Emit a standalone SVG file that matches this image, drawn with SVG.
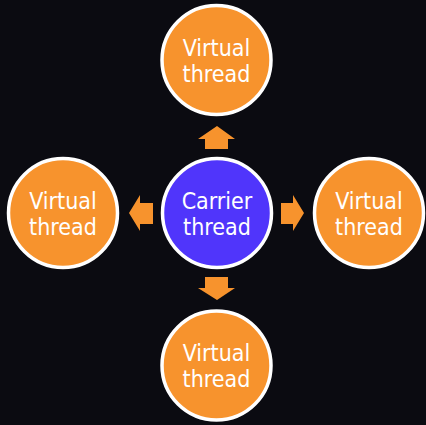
<svg xmlns="http://www.w3.org/2000/svg" width="426" height="425" viewBox="0 0 426 425">
<style>
.v{fill:#f7932d;stroke:#ffffff;stroke-width:3.5}
.c{fill:#5035fb;stroke:#ffffff;stroke-width:3.5}
.t{font-family:"DejaVu Sans Condensed","DejaVu Sans",sans-serif;font-stretch:condensed;font-size:23px;fill:#ffffff;text-anchor:middle}
.a{fill:#f7932d}
</style>
<rect width="426" height="425" fill="#0b0b11"/>
<g id="connectors">
<polygon class="a" points="217,126 235,139 228,139 228,149 205,149 205,139 198,139"/>
<polygon class="a" points="217,300 235,288 228,288 228,277 205,277 205,288 198,288"/>
<polygon class="a" points="129,213 140,195 140,203 153,203 153,224 140,224 140,231"/>
<polygon class="a" points="304,213 293,195 293,203 281,203 281,224 293,224 293,231"/>
</g>
<g id="carrier">
<circle class="c" cx="217" cy="213" r="54.5"/>
<text class="t" x="217" y="208.5">Carrier</text>
<text class="t" x="217" y="234.5">thread</text>
</g>
<g id="vt-top">
<circle class="v" cx="216.5" cy="60" r="54.5"/>
<text class="t" x="216.5" y="55.5">Virtual</text>
<text class="t" x="216.5" y="81.5">thread</text>
</g>
<g id="vt-left">
<circle class="v" cx="63" cy="213" r="54.5"/>
<text class="t" x="63" y="208.5">Virtual</text>
<text class="t" x="63" y="234.5">thread</text>
</g>
<g id="vt-right">
<circle class="v" cx="369" cy="213" r="54.5"/>
<text class="t" x="369" y="208.5">Virtual</text>
<text class="t" x="369" y="234.5">thread</text>
</g>
<g id="vt-bottom">
<circle class="v" cx="216.5" cy="365.5" r="54.5"/>
<text class="t" x="216.5" y="361">Virtual</text>
<text class="t" x="216.5" y="387">thread</text>
</g>
</svg>
